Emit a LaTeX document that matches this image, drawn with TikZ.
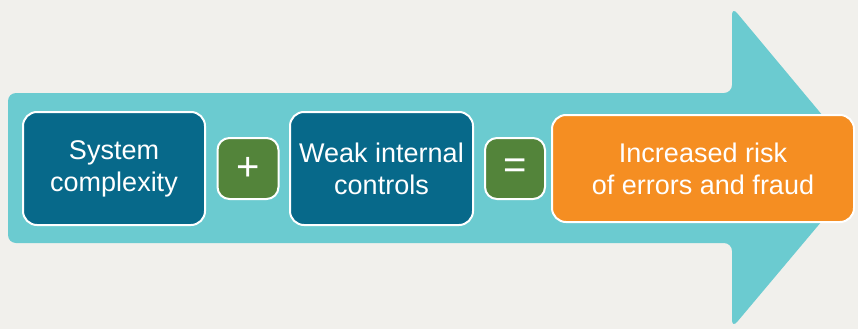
\documentclass[tikz,border=0pt]{standalone}
\usepackage{fontspec}
\setmainfont{Liberation Sans}
\definecolor{page bg}{HTML}{F1F0EC}
\definecolor{arrow fill}{HTML}{6BCBD0}
\definecolor{box blue}{HTML}{07698A}
\definecolor{box green}{HTML}{53843A}
\definecolor{box orange}{HTML}{F58E22}
\tikzset{term/.style={fill=box blue, draw=white, line width=2pt, rounded corners=14pt,
    text=white, align=center, font=\fontsize{27}{32}\selectfont, inner sep=0pt},
  opbox/.style={fill=box green, draw=white, line width=2pt, rounded corners=12pt,
    text=white, font=\fontsize{40}{40}\selectfont, inner sep=0pt,
    minimum width=61pt, minimum height=61pt},
  result/.style={term, fill=box orange}}

\begin{document}
\begin{tikzpicture}[x=1pt, y=-1pt]
    % page and bounding box
    \fill[page bg] (0,0) rectangle (858,329);
    \useasboundingbox (0,0) rectangle (858,329);
    % the big arrow (tip is hidden behind the result box)
    \fill[arrow fill, rounded corners=8pt]
        (8,93) -- (732,93) -- (732,7) -- (848,146) -- (848,190) -- (732,328)
        -- (732,243) -- (8,243) -- cycle;
    % terms
    \node[term, minimum width=182pt, minimum height=113pt] (sys)  at (114,168.5)
        {System\\complexity};
    \node[opbox] (plus) at (248,168.5) {+};
    \node[term, minimum width=183pt, minimum height=113pt] (weak) at (381.5,168.5)
        {Weak internal\\controls};
    \node[opbox, minimum width=60pt] (eq) at (515,168.5) {=};
    \node[result, minimum width=302pt, minimum height=107pt] (risk) at (703,168.5)
        {Increased risk\\of errors and fraud};
\end{tikzpicture}
\end{document}
